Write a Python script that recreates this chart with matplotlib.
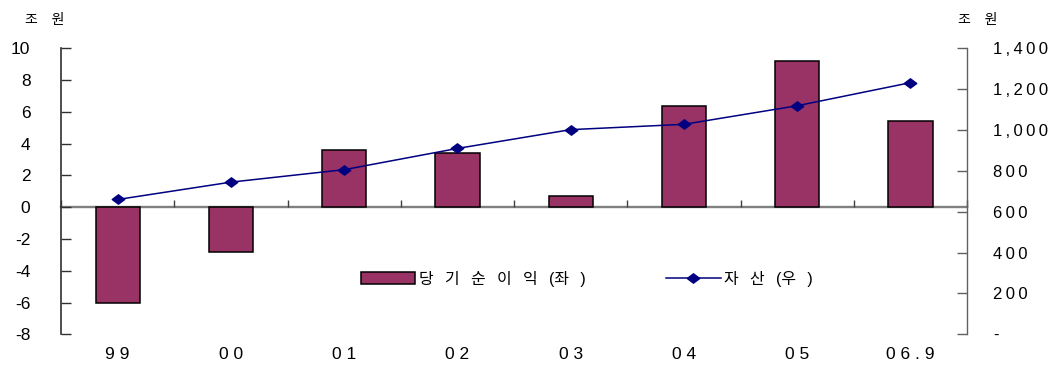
import numpy as np
import matplotlib
matplotlib.use('Agg')
from matplotlib import pyplot as plt
from matplotlib.lines import Line2D
from matplotlib.patches import Patch
from matplotlib.path import Path

plt.rcParams['font.family'] = ['Liberation Sans', 'Noto Sans CJK KR', 'DejaVu Sans']

years = ['99', '00', '01', '02', '03', '04', '05', '06.9']
net_income = [-6.0, -2.8, 3.6, 3.4, 0.7, 6.4, 9.2, 5.4]        # 조원, left axis
assets = [660, 745, 806, 910, 1002, 1028, 1119, 1232]           # 조원, right axis
left_ticks = [-8, -6, -4, -2, 0, 2, 4, 6, 8, 10]
right_ticks = [0, 200, 400, 600, 800, 1000, 1200, 1400]

bar_color = '#993366'
line_color = '#000080'

THIN = '\u2009'
WIDE = '\u2002\u2009'

# flat diamond, a bit wider than tall
diamond = Path([(-1, 0), (0, 0.75), (1, 0), (0, -0.75), (-1, 0)],
               [Path.MOVETO, Path.LINETO, Path.LINETO, Path.LINETO, Path.CLOSEPOLY])


def spaced(s, gap=' '):
    return gap.join(s)


fig = plt.figure(figsize=(10.56, 3.69), dpi=100)
ax = fig.add_axes([0.0578, 0.094, 0.858, 0.775])
ax2 = ax.twinx()

x = np.arange(len(years))
ax.bar(x, net_income, width=0.39, color=bar_color, edgecolor='black', linewidth=1.1, zorder=2)
ax2.plot(x, assets, color=line_color, lw=1.1, marker=diamond, markersize=9, zorder=3)

ax.set_xlim(-0.5, len(years) - 0.5)
ax.set_ylim(-8, 10)
ax2.set_ylim(0, 1400)

# left axis
ax.set_yticks(left_ticks)
ax.set_yticklabels([str(v) for v in left_ticks], fontsize=12.5)
ax.tick_params(axis='y', direction='in', length=7, width=1, color='#303030', pad=22)

# right axis
ax2.set_yticks(right_ticks)
ax2.set_yticklabels(['-' if v == 0 else spaced(f'{v:,}', THIN) for v in right_ticks],
                    fontsize=12)
ax2.tick_params(axis='y', direction='in', length=7, width=1, color='#606060', pad=18.5)

# category axis sits on the zero line, ticks between groups
ax.spines['bottom'].set_position(('data', 0))
ax.set_xticks(x)
ax.set_xticklabels([])
ax.set_xticks(np.arange(len(years) + 1) - 0.5, minor=True)
ax.tick_params(axis='x', which='major', length=0)
ax.tick_params(axis='x', which='minor', direction='in', length=5, width=1, color='#404040')
for xi, lab in zip(x, years):
    ax.text(xi, -0.072, spaced(lab), transform=ax.get_xaxis_transform(),
            ha='center', va='center', fontsize=12.5)

for a in (ax, ax2):
    a.spines['top'].set_visible(False)
ax.spines['left'].set_color('#303030')
ax.spines['left'].set_linewidth(1.2)
ax.spines['bottom'].set_color('#808080')
ax.spines['bottom'].set_linewidth(1.7)
ax.spines['bottom'].set_zorder(1)
ax2.spines['right'].set_color('#606060')
ax2.spines['right'].set_linewidth(1.0)
ax2.spines['bottom'].set_visible(False)
ax2.spines['left'].set_visible(False)
ax.spines['right'].set_visible(False)

# units
unit = '조\u2003원'
fig.text(0.024, 0.945, unit, fontsize=10, va='center', ha='left')
fig.text(0.907, 0.945, unit, fontsize=10, va='center', ha='left')

# legends
h1 = Patch(facecolor=bar_color, edgecolor='black', linewidth=1.1)
h2 = Line2D([], [], color=line_color, lw=1.1, marker=diamond, markersize=9)
lab1 = WIDE.join(['당', '기', '순', '이', '익', '(좌', ')'])
lab2 = WIDE.join(['자', '산', '(우', ')'])
fig.legend([h1], [lab1], loc='center left',
           bbox_to_anchor=(0.342, 0.245), frameon=False, fontsize=11.5,
           handlelength=3.4, handleheight=0.8, handletextpad=0.2,
           borderpad=0, borderaxespad=0)
fig.legend([h2], [lab2], loc='center left',
           bbox_to_anchor=(0.631, 0.245), frameon=False, fontsize=11.5,
           handlelength=3.4, handletextpad=0.2, borderpad=0, borderaxespad=0)

plt.savefig('out.png', dpi=100)
